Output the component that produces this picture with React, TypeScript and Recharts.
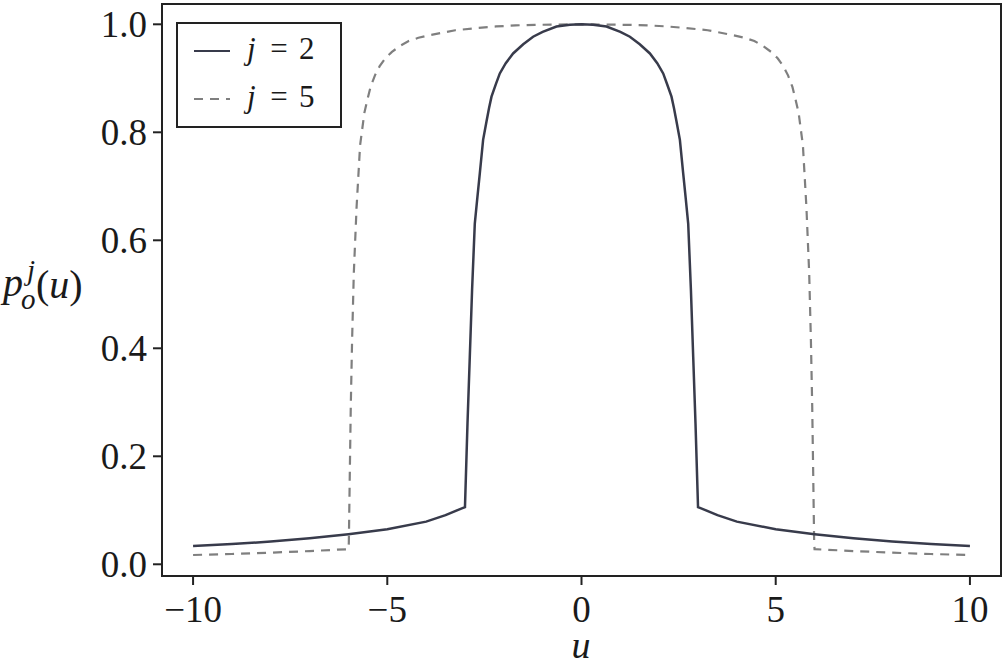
import React from "react";
import { LineChart, Line, XAxis, YAxis, ReferenceArea, Legend } from "recharts";

// j = 2 curve (solid)
const uJ2 = [-10, -9, -8, -7, -6, -5, -4, -3.5, -3.0, -2.935, -2.876, -2.817, -2.747, -2.68, -2.618, -2.533, -2.446, -2.38, -2.317, -2.2, -2.103, -1.95, -1.761, -1.5, -1.246, -1.0, -0.644, -0.3, 0,
  0.3, 0.644, 1.0, 1.246, 1.5, 1.761, 1.95, 2.103, 2.2, 2.317, 2.38, 2.446, 2.533, 2.618, 2.68, 2.747, 2.817, 2.876, 2.935, 3.0, 3.5, 4, 5, 6, 7, 8, 9, 10];
const pJ2 = [0.034, 0.0375, 0.042, 0.048, 0.0556, 0.0648, 0.079, 0.091, 0.106, 0.261, 0.384, 0.508, 0.631, 0.68, 0.724, 0.786, 0.82, 0.845, 0.866, 0.89, 0.909, 0.928, 0.946, 0.963, 0.977, 0.986, 0.996, 0.999, 1.0,
  0.999, 0.996, 0.986, 0.977, 0.963, 0.946, 0.928, 0.909, 0.89, 0.866, 0.845, 0.82, 0.786, 0.724, 0.68, 0.631, 0.508, 0.384, 0.261, 0.106, 0.091, 0.079, 0.0648, 0.0556, 0.048, 0.042, 0.0375, 0.034];

// j = 5 curve (dashed)
const uJ5 = [-10, -9, -8, -7, -6, -5.99, -5.965, -5.94, -5.906, -5.862, -5.79, -5.7, -5.59, -5.5, -5.43, -5.32, -5.2, -5.05, -4.88, -4.65, -4.45, -4.2, -3.9, -3.25, -2.7, -2.2, -1.7, -1.2, 0,
  1.2, 1.7, 2.2, 2.7, 3.25, 3.9, 4.2, 4.45, 4.65, 4.88, 5.05, 5.2, 5.32, 5.43, 5.5, 5.59, 5.7, 5.79, 5.862, 5.906, 5.94, 5.965, 5.99, 6, 7, 8, 9, 10];
const pJ5 = [0.0172, 0.019, 0.0215, 0.0245, 0.028, 0.04, 0.168, 0.292, 0.415, 0.539, 0.662, 0.776, 0.836, 0.864, 0.884, 0.905, 0.922, 0.937, 0.949, 0.961, 0.969, 0.975, 0.98, 0.989, 0.993, 0.996, 0.998, 0.999, 1.0,
  0.999, 0.998, 0.996, 0.993, 0.989, 0.98, 0.975, 0.969, 0.961, 0.949, 0.937, 0.922, 0.905, 0.884, 0.864, 0.836, 0.776, 0.662, 0.539, 0.415, 0.292, 0.168, 0.04, 0.028, 0.0245, 0.0215, 0.019, 0.0172];

const xTicks = [-10, -5, 0, 5, 10];
const yTicks = [0, 0.2, 0.4, 0.6, 0.8, 1.0];
const xDomain: [number, number] = [-10.8, 10.8];
const yDomain: [number, number] = [-0.0217, 1.0376];
const seriesNames = ["j2", "j5"];

const dataJ2 = uJ2.map((u, i) => ({ u, p: pJ2[i] }));
const dataJ5 = uJ5.map((u, i) => ({ u, p: pJ5[i] }));

const FONT = "Liberation Serif, Times New Roman, Times, serif";
const INK = "#1a1a1a";
const SOLID = "#383b4b";
const DASHED = "#7f7f7f";

const YLabel = () => (
  <text fontFamily={FONT} fill={INK} style={{ fontFamily: FONT }}>
    <tspan x={3} y={296} fontSize={40} fontStyle="italic">p</tspan>
    <tspan x={21} y={309} fontSize={29} fontStyle="italic">o</tspan>
    <tspan x={27} y={280} fontSize={29} fontStyle="italic">j</tspan>
    <tspan x={36} y={298} fontSize={40}>(</tspan>
    <tspan fontSize={40} fontStyle="italic">u</tspan>
    <tspan fontSize={40}>)</tspan>
  </text>
);

const XLabel = () => (
  <text x={581} y={658} textAnchor="middle" fontFamily={FONT} fontSize={38} fontStyle="italic" fill={INK} style={{ fontFamily: FONT }}>
    u
  </text>
);

const LegendBox = () => (
  <svg width={166} height={107} style={{ display: "block" }}>
    <rect x={1} y={1} width={164} height={104} fill="#fff" stroke="#222" strokeWidth={2} />
    <line x1={18} x2={54} y1={29} y2={29} stroke={SOLID} strokeWidth={2} />
    <line x1={18} x2={54} y1={77} y2={77} stroke={DASHED} strokeWidth={2} strokeDasharray="9 7" />
    <g fontFamily={FONT} fontSize={31} fill={INK} style={{ fontFamily: FONT }}>
      <text x={71} y={37}><tspan fontStyle="italic">j</tspan></text>
      <text x={103} y={37} textAnchor="middle">=</text>
      <text x={123} y={37}>2</text>
      <text x={71} y={85}><tspan fontStyle="italic">j</tspan></text>
      <text x={103} y={85} textAnchor="middle">=</text>
      <text x={123} y={85}>5</text>
    </g>
  </svg>
);

const fmtX = (v: number) => (v < 0 ? "\u2212" + Math.abs(v) : String(v));
const fmtY = (v: number) => v.toFixed(1);

export default function App() {
  return (
    <div style={{ position: "absolute", left: 0, top: 0, background: "#fff", fontFamily: FONT }}>
      <LineChart width={1006} height={667} margin={{ top: 4, right: 5, bottom: 0, left: 0 }} style={{ fontFamily: FONT }}>
        <XAxis
          type="number"
          dataKey="u"
          domain={xDomain}
          ticks={xTicks}
          tickFormatter={fmtX}
          allowDataOverflow
          height={91}
          tickSize={9}
          tickMargin={11}
          axisLine={{ stroke: "#222", strokeWidth: 2 }}
          tickLine={{ stroke: "#222", strokeWidth: 2 }}
          tick={{ fontFamily: FONT, fontSize: 37, fill: INK }}
          label={<XLabel />}
        />
        <YAxis
          type="number"
          domain={yDomain}
          ticks={yTicks}
          tickFormatter={fmtY}
          allowDataOverflow
          width={162}
          tickSize={9}
          tickMargin={6}
          axisLine={{ stroke: "#222", strokeWidth: 2 }}
          tickLine={{ stroke: "#222", strokeWidth: 2 }}
          tick={{ fontFamily: FONT, fontSize: 37, fill: INK }}
          label={<YLabel />}
        />
        <ReferenceArea
          x1={xDomain[0]}
          x2={xDomain[1]}
          y1={yDomain[0]}
          y2={yDomain[1]}
          fill="none"
          fillOpacity={0}
          stroke="#222"
          strokeWidth={2}
          ifOverflow="visible"
        />
        <Line
          data={dataJ5}
          dataKey="p"
          name={seriesNames[1]}
          type="linear"
          stroke={DASHED}
          strokeWidth={2.2}
          strokeDasharray="9 7"
          dot={false}
          activeDot={false}
          isAnimationActive={false}
        />
        <Line
          data={dataJ2}
          dataKey="p"
          name={seriesNames[0]}
          type="linear"
          stroke={SOLID}
          strokeWidth={2.5}
          dot={false}
          activeDot={false}
          isAnimationActive={false}
        />
        <Legend
          layout="horizontal"
          verticalAlign="middle"
          align="center"
          content={<LegendBox />}
          wrapperStyle={{ position: "absolute", left: 176, top: 22, width: 166, height: 107, margin: 0 }}
        />
      </LineChart>
    </div>
  );
}
